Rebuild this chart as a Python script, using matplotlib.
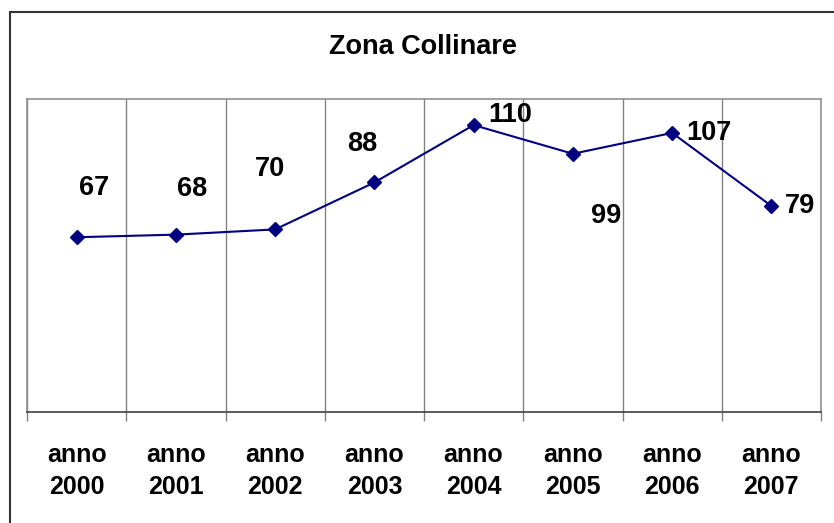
import matplotlib
matplotlib.use("Agg")
import matplotlib.pyplot as plt
from matplotlib.patches import Rectangle
import numpy as np

plt.rcParams['font.family'] = ['Liberation Sans', 'DejaVu Sans']

title = "Zona Collinare"
categories = ["anno\n2000", "anno\n2001", "anno\n2002", "anno\n2003",
              "anno\n2004", "anno\n2005", "anno\n2006", "anno\n2007"]
values = [67, 68, 70, 88, 110, 99, 107, 79]
# label offsets in pixels (dx, dy upward) from each point
label_offsets = [(17, 49), (16, 46), (-5, 60), (-12, 38), (37, 10), (33, -62), (37, 0), (29, 0)]

W, H = 834, 523
fig = plt.figure(figsize=(W / 100, H / 100), dpi=100)
fig.patch.set_facecolor('white')

# outer chart frame (left and top visible, rest beyond the image)
fig.patches.append(Rectangle((10 / W, -0.1), 1.2, (H - 12) / H + 0.1, transform=fig.transFigure,
                             fill=False, edgecolor='#333333', linewidth=1.5))

left, right, top, bottom = 27, 821, 99, 412
ax = fig.add_axes([left / W, (H - bottom) / H, (right - left) / W, (bottom - top) / H])

x = np.arange(len(values))
ax.plot(x, values, color='#000080', linewidth=1.5, marker='D', markersize=7.5,
        markerfacecolor='#000080', markeredgecolor='#000080', zorder=3)

ax.set_xlim(-0.5, len(values) - 0.5)
ax.set_ylim(0, 120)
ax.set_yticks([])

ax.set_xticks(x)
ax.set_xticklabels(categories, fontsize=18, fontweight='bold', linespacing=1.42)
ax.tick_params(axis='x', which='major', length=0, pad=22)
ax.set_xticks(np.arange(-0.5, len(values)), minor=True)
ax.tick_params(axis='x', which='minor', length=6.5, width=1, color='#808080', direction='out')
ax.grid(True, axis='x', which='minor', color='#808080', linewidth=1)
ax.set_axisbelow(True)

for s in ['top', 'right', 'left']:
    ax.spines[s].set_color('#909090')
    ax.spines[s].set_linewidth(1.2)
ax.spines['bottom'].set_color('#404040')
ax.spines['bottom'].set_linewidth(1.2)

for xi, v, (dx, dy) in zip(x, values, label_offsets):
    ax.annotate(str(v), (xi, v), xytext=(dx, dy), textcoords='offset pixels',
                ha='center', va='center', fontsize=19.5, fontweight='bold', color='black')

fig.text(423 / W, 1 - 47 / H, title, ha='center', va='center', fontsize=19.5, fontweight='bold')

fig.savefig('out.png', dpi=100, facecolor='white')
